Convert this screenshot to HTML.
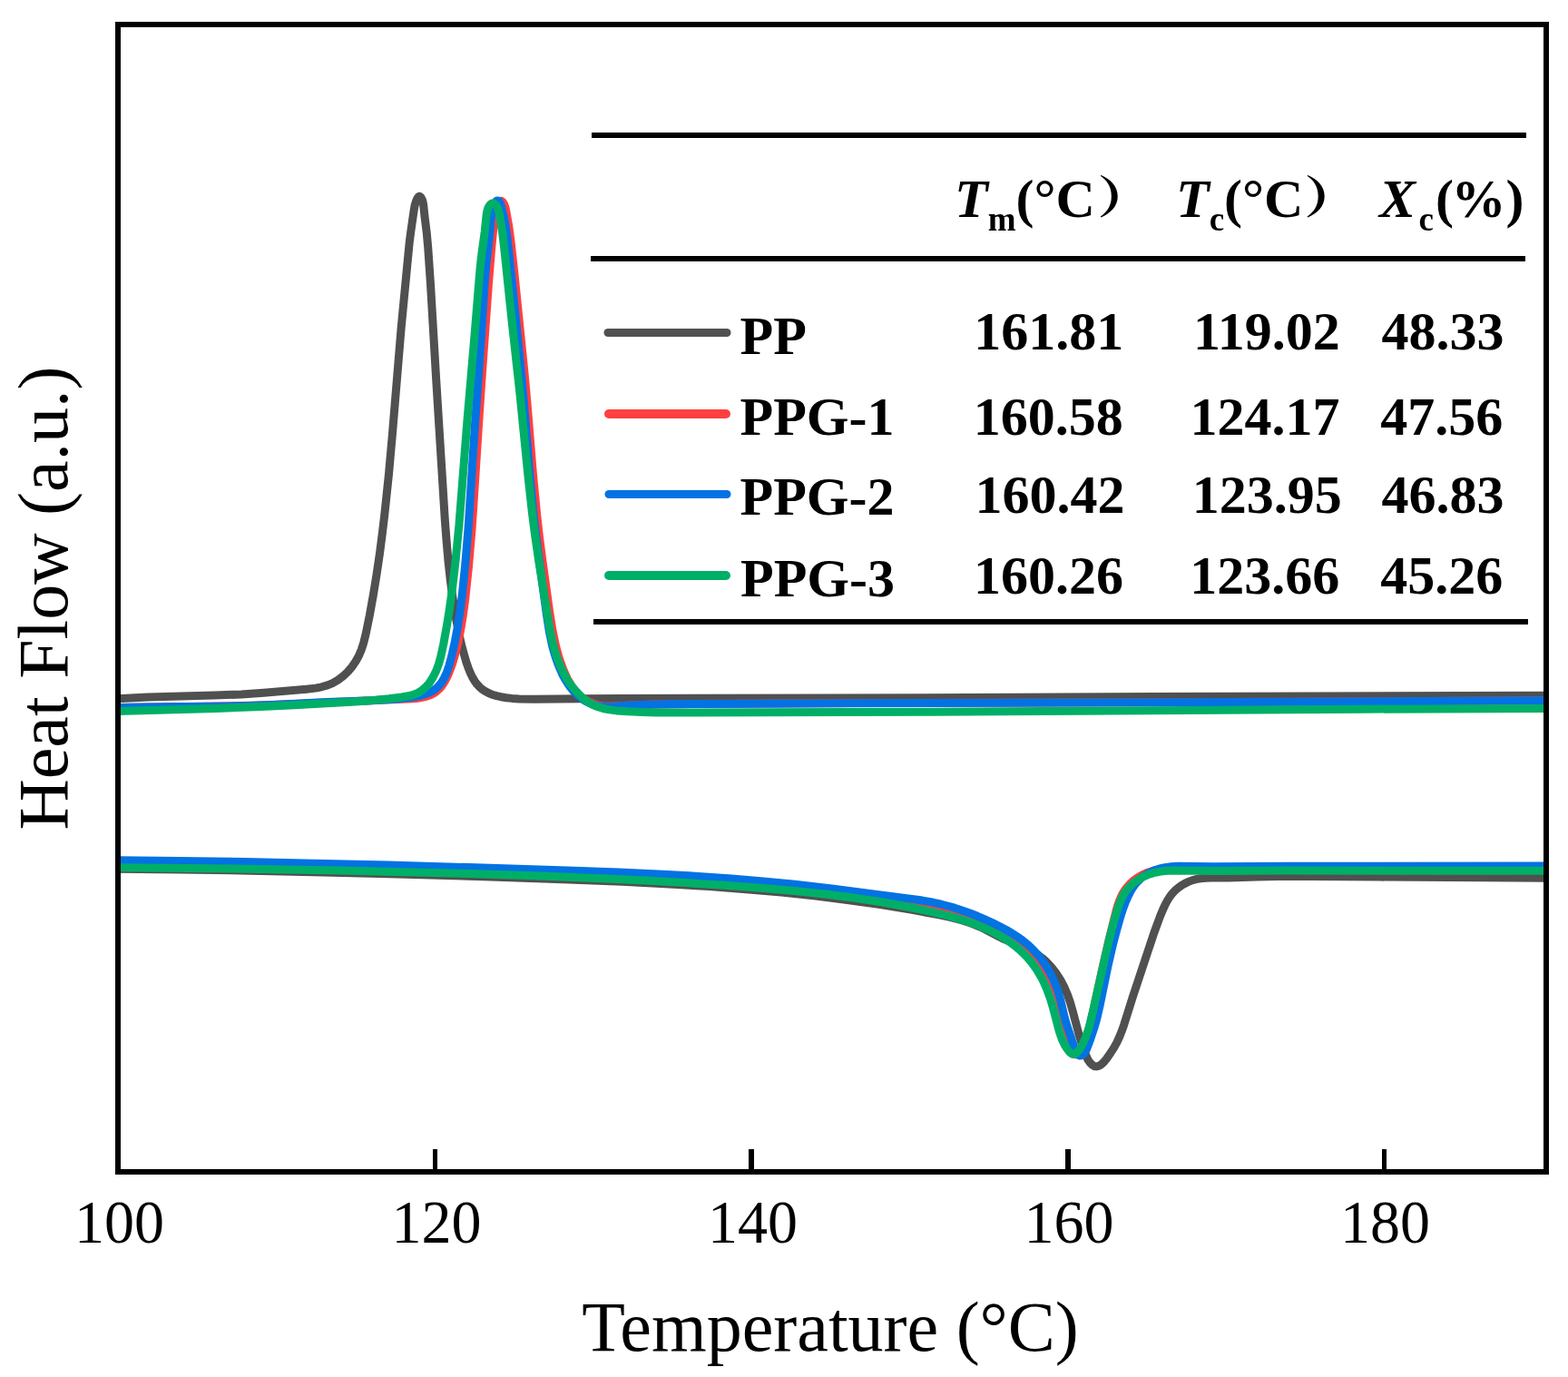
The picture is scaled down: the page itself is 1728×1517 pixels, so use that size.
<!DOCTYPE html>
<html><head><meta charset="utf-8"><title>DSC curves of PP and PPG composites</title>
<style>
html,body{margin:0;padding:0;background:#fff;}
svg{display:block;}
.t{font-family:"Liberation Serif","Times New Roman",serif;}
.b{font-family:"Liberation Serif","Times New Roman",serif;font-weight:bold;}
.cj{font-family:"Liberation Serif","Noto Serif CJK SC",serif;font-weight:normal;}
</style></head>
<body>
<svg width="1728" height="1517" viewBox="0 0 1728 1517">
<defs><clipPath id="pa"><rect x="130" y="27" width="1574" height="1264"/></clipPath></defs>
<rect x="0" y="0" width="1728" height="1517" fill="#fff"/>
<g clip-path="url(#pa)">
<path d="M126.0,770.0L143.9,768.9 162.9,768.1 235.9,766.1 265.8,764.9 290.7,763.2 337.7,759.3 347.7,758.1 354.4,756.8 361.0,754.9 366.5,752.6 372.5,749.1 378.1,744.9 383.3,740.0 387.9,734.6 391.9,728.8 395.3,722.7 398.4,715.4 400.8,707.9 403.2,698.2 407.2,678.6 411.3,655.9 415.0,633.2 418.5,609.5 421.2,588.7 423.7,567.9 428.5,522.2 432.5,477.3 442.1,361.7 451.2,267.1 453.0,253.5 456.2,231.3 457.2,225.9 458.4,222.0 459.9,218.5 461.4,216.6 461.9,216.3 462.5,216.3 463.6,217.0 465.1,219.7 465.9,221.9 466.6,225.3 468.0,238.4 470.3,257.0 471.7,272.7 474.4,311.7 480.7,418.6 490.4,574.3 492.2,597.3 494.0,618.2 496.2,638.0 498.5,655.8 502.3,680.2 506.5,701.6 508.8,711.3 511.2,720.2 513.8,729.2 516.2,736.1 518.5,741.8 520.8,746.4 523.3,750.6 525.6,753.7 528.8,757.1 531.6,759.5 534.7,761.6 538.9,763.8 542.5,765.2 547.2,766.6 552.0,767.7 558.1,768.7 564.2,769.4 572.3,769.9 588.4,770.3 641.3,769.7 685.2,769.5 909.2,769.1 1446.1,766.9 1710.0,766.3" fill="none" stroke="#505050" stroke-width="9" stroke-linejoin="round"/>
<path d="M126.0,779.6L239.0,778.1 285.0,777.0 325.8,775.5 407.7,771.7 454.3,769.7 460.3,769.2 465.1,768.4 469.8,767.3 474.2,765.8 478.3,763.7 481.3,761.5 484.1,759.0 486.7,756.0 488.4,753.5 490.6,749.9 492.6,746.2 494.7,741.4 498.3,732.0 501.7,720.5 505.0,707.1 507.7,693.4 510.3,677.7 512.6,660.8 516.4,625.0 520.0,583.2 522.1,552.3 527.0,475.5 530.6,421.6 538.4,313.0 541.5,275.1 544.2,247.1 545.2,240.0 546.1,234.9 547.5,228.6 548.9,224.6 549.6,223.0 550.5,221.8 551.0,221.5 552.0,221.3 552.6,221.4 553.6,222.1 555.2,224.2 556.4,227.1 557.4,230.6 560.8,249.5 563.1,266.8 566.5,297.6 577.7,408.0 580.8,441.9 587.5,523.6 591.6,566.4 594.4,591.2 598.0,618.9 605.4,672.4 608.5,692.2 611.9,708.8 613.8,716.5 615.7,723.3 617.9,729.9 620.3,736.5 622.7,742.1 625.2,747.6 627.7,752.0 630.3,756.1 633.2,760.1 636.5,763.8 640.0,767.2 643.2,769.6 646.5,771.8 650.1,773.7 654.7,775.7 659.6,777.1 664.5,777.9 670.4,778.2 699.4,776.8 722.3,776.1 749.3,775.7 816.3,775.3 950.3,774.6 1424.1,773.2 1710.0,771.8" fill="none" stroke="#FF4040" stroke-width="9" stroke-linejoin="round"/>
<path d="M126.0,779.7L160.0,778.9 239.9,778.2 274.9,777.6 301.0,776.5 359.9,773.6 409.7,771.8 430.7,770.5 443.9,769.4 454.1,768.1 461.0,766.9 467.6,765.1 473.8,762.7 478.5,760.0 482.0,757.2 485.7,753.1 487.3,750.8 489.2,747.5 492.2,741.2 494.9,733.4 497.9,722.2 501.3,706.9 504.3,690.9 506.9,674.2 509.2,656.6 512.7,622.1 516.1,581.4 523.3,470.3 530.7,365.8 534.4,307.8 535.5,293.8 536.7,282.9 539.8,257.2 541.3,239.1 541.9,234.0 543.2,229.0 545.2,224.1 546.8,221.7 548.0,221.0 548.6,221.0 549.8,221.6 550.7,223.1 552.0,226.2 553.3,231.1 555.2,238.6 556.6,245.2 558.7,259.5 564.7,314.3 574.4,410.8 577.5,445.7 584.1,526.5 588.0,567.3 590.5,589.1 593.7,613.8 602.6,678.3 605.4,696.1 608.5,710.8 610.3,717.5 612.3,724.1 614.6,730.7 616.9,736.3 619.3,741.8 622.1,747.1 625.2,752.3 628.0,756.4 631.1,760.3 634.5,763.9 638.1,767.3 641.2,769.7 645.4,772.4 649.0,774.3 654.6,776.6 659.4,777.9 664.3,778.6 669.3,778.8 674.2,778.6 695.2,777.1 714.1,776.3 737.1,775.8 773.1,775.5 934.1,774.7 1439.0,773.2 1710.0,771.8" fill="none" stroke="#0372E3" stroke-width="9" stroke-linejoin="round"/>
<path d="M126.0,783.7L237.9,780.4 287.9,778.5 324.9,776.8 373.8,774.1 395.6,772.7 413.6,771.3 428.6,769.8 442.7,768.0 449.7,766.8 455.5,765.3 458.3,764.3 460.9,763.1 465.0,760.5 469.4,756.7 473.3,752.2 477.1,746.3 480.6,739.3 483.4,731.8 485.8,723.2 488.8,709.4 492.2,690.6 495.1,672.8 497.9,653.0 502.0,618.3 505.9,578.6 514.9,463.9 523.5,363.3 528.3,304.5 529.6,290.5 530.9,279.5 534.2,255.3 535.9,238.6 536.5,233.9 537.7,229.6 539.1,226.9 540.2,225.4 541.4,224.4 542.6,223.9 543.3,223.9 544.5,224.2 546.3,225.7 547.9,228.0 549.0,230.9 549.9,234.2 551.2,241.0 553.7,256.8 555.6,272.5 564.1,353.8 572.9,433.2 582.1,525.8 586.5,565.6 589.7,590.4 593.6,617.0 603.8,680.3 606.8,697.2 610.1,711.8 612.0,718.5 614.1,725.1 616.2,730.6 618.5,736.0 621.0,741.3 623.9,746.5 627.0,751.5 630.5,756.3 634.4,761.0 638.0,764.9 641.8,768.5 645.8,771.8 649.2,774.1 653.6,776.6 659.0,778.8 664.6,780.5 671.4,781.9 679.2,782.9 692.2,783.8 707.1,784.5 723.1,784.9 741.1,785.1 1027.1,784.2 1503.0,781.2 1710.0,780.5" fill="none" stroke="#00AF67" stroke-width="9" stroke-linejoin="round"/>
<path d="M126.0,957.1L200.0,958.0 277.0,959.2 355.9,960.9 438.8,963.0 533.7,965.8 626.7,968.9 685.7,971.3 737.6,973.9 781.5,976.6 822.4,979.7 861.2,983.1 898.9,987.1 935.6,991.7 970.2,996.6 1003.8,1002.1 1036.2,1008.1 1048.9,1010.8 1060.5,1013.9 1070.0,1017.0 1079.2,1020.7 1085.5,1023.7 1100.7,1031.8 1107.0,1034.9 1112.6,1037.2 1127.6,1043.0 1134.8,1046.3 1139.1,1048.7 1144.0,1052.0 1148.8,1055.7 1153.2,1059.7 1158.7,1065.5 1164.2,1072.6 1168.6,1079.4 1172.8,1087.4 1176.3,1095.6 1179.3,1104.1 1182.1,1113.7 1189.0,1139.6 1194.2,1155.8 1196.4,1161.8 1197.7,1164.8 1199.1,1167.7 1200.9,1170.3 1202.2,1171.8 1203.6,1173.1 1205.1,1174.1 1206.6,1174.7 1208.3,1174.9 1210.8,1174.4 1213.3,1173.0 1216.4,1170.1 1219.3,1166.6 1223.8,1160.2 1227.7,1154.1 1231.0,1148.1 1233.8,1142.0 1236.3,1135.7 1238.6,1129.2 1248.3,1098.4 1271.9,1027.4 1278.5,1009.5 1281.6,1002.0 1284.1,996.6 1286.5,992.2 1289.1,988.0 1292.1,984.1 1294.8,981.2 1297.8,978.6 1301.8,975.6 1305.2,973.6 1309.7,971.4 1314.4,969.6 1318.2,968.6 1323.1,967.7 1329.1,967.2 1335.1,967.0 1354.2,967.0 1385.1,965.9 1408.1,965.5 1444.1,965.4 1520.1,966.1 1710.0,967.2" fill="none" stroke="#505050" stroke-width="9" stroke-linejoin="round"/>
<path d="M126.0,951.2L194.0,951.9 265.0,953.0 339.0,954.4 416.9,956.2 511.9,958.8 613.8,962.0 670.8,964.0 718.8,966.2 758.7,968.4 796.6,971.1 832.4,974.0 871.2,977.8 922.0,983.3 959.8,987.8 987.5,991.8 1012.1,996.2 1032.5,1000.7 1050.8,1005.6 1059.3,1008.2 1067.8,1011.1 1075.3,1013.9 1082.7,1016.9 1090.1,1020.1 1097.3,1023.7 1103.6,1027.0 1109.7,1030.6 1115.6,1034.4 1121.2,1038.5 1126.6,1042.9 1131.1,1046.9 1137.2,1053.4 1143.4,1061.1 1148.8,1069.4 1153.5,1078.2 1156.3,1084.6 1158.7,1091.2 1160.7,1098.0 1163.8,1111.7 1165.4,1117.5 1176.9,1150.4 1179.1,1155.6 1180.1,1157.7 1181.3,1159.6 1182.7,1160.9 1183.4,1161.4 1185.1,1161.8 1186.7,1161.5 1189.1,1160.2 1190.4,1158.9 1192.2,1156.5 1193.6,1153.7 1194.8,1150.6 1198.7,1138.3 1201.5,1127.8 1204.6,1114.5 1215.7,1063.5 1222.1,1035.4 1230.1,1003.3 1231.8,997.4 1233.8,991.7 1236.2,986.2 1238.7,981.9 1241.6,977.9 1244.9,974.1 1248.5,970.7 1253.3,967.1 1258.4,964.1 1263.7,961.6 1271.1,959.2 1279.8,957.3 1289.7,956.2 1300.8,955.8 1423.9,955.2 1710.0,955.0" fill="none" stroke="#FF4040" stroke-width="9" stroke-linejoin="round"/>
<path d="M126.0,947.6L197.0,948.4 269.9,949.6 346.9,951.2 427.8,953.1 524.7,955.8 625.7,958.9 682.6,961.0 730.5,963.2 769.4,965.4 806.3,968.0 841.2,970.9 876.0,974.2 918.7,979.1 999.1,989.6 1014.9,991.8 1028.7,994.3 1036.4,996.0 1044.1,998.0 1051.8,1000.2 1060.3,1003.0 1068.8,1006.0 1077.1,1009.3 1085.4,1012.9 1094.6,1017.1 1101.8,1020.7 1108.9,1024.5 1114.9,1028.0 1120.8,1031.8 1126.5,1035.8 1131.1,1039.5 1135.6,1043.4 1139.8,1047.6 1146.3,1055.1 1152.1,1063.2 1157.3,1071.8 1161.6,1080.9 1164.3,1087.4 1166.5,1094.1 1168.7,1101.8 1172.6,1118.3 1174.6,1125.9 1177.0,1133.4 1183.5,1152.5 1185.0,1156.5 1186.9,1160.3 1188.1,1161.9 1188.7,1162.5 1190.1,1163.0 1191.7,1162.8 1194.0,1161.2 1195.4,1159.5 1197.1,1156.7 1198.8,1152.6 1202.1,1143.7 1206.4,1130.6 1209.0,1121.2 1211.7,1109.6 1220.8,1065.1 1226.3,1041.2 1230.3,1025.9 1234.4,1011.2 1237.5,1001.3 1240.4,993.6 1243.3,987.1 1246.5,980.9 1249.7,976.0 1253.4,971.5 1257.4,967.5 1261.2,964.5 1266.2,961.5 1271.6,959.1 1277.2,957.2 1284.1,955.6 1291.0,954.7 1299.0,954.3 1336.2,954.8 1422.1,954.2 1710.0,954.0" fill="none" stroke="#0372E3" stroke-width="9" stroke-linejoin="round"/>
<path d="M126.0,955.6L208.0,956.4 286.9,957.4 362.9,958.8 435.9,960.4 509.9,962.3 581.8,964.6 644.7,967.0 701.6,969.6 751.5,972.3 798.5,975.3 841.4,978.5 878.3,981.8 911.1,985.3 941.9,989.3 971.5,993.8 998.9,998.8 1023.3,1003.8 1044.6,1008.9 1060.9,1013.5 1068.5,1016.0 1076.1,1018.7 1083.5,1021.8 1090.0,1024.7 1096.4,1027.9 1102.6,1031.3 1108.6,1035.0 1113.6,1038.4 1119.3,1042.7 1123.9,1046.5 1131.0,1053.4 1137.3,1060.9 1143.0,1068.9 1148.4,1078.3 1151.0,1083.6 1153.4,1089.1 1157.6,1100.4 1160.7,1111.0 1167.1,1135.3 1168.9,1141.0 1170.6,1145.6 1173.7,1151.9 1175.9,1155.4 1177.8,1157.9 1179.2,1159.4 1180.7,1160.6 1182.2,1161.3 1183.1,1161.3 1184.8,1160.9 1186.5,1159.7 1188.9,1157.3 1190.9,1154.5 1192.9,1150.7 1196.1,1143.5 1199.4,1134.3 1201.5,1126.6 1204.3,1114.9 1217.8,1054.4 1223.1,1032.1 1226.6,1018.5 1229.9,1006.9 1232.3,999.1 1234.4,993.4 1236.9,988.0 1239.3,983.7 1242.2,979.7 1245.6,976.0 1249.3,972.7 1254.2,969.1 1259.4,966.2 1264.7,963.8 1271.3,961.7 1278.9,960.1 1286.8,959.3 1296.8,958.9 1339.2,959.5 1416.0,959.1 1710.0,959.3" fill="none" stroke="#00AF67" stroke-width="9" stroke-linejoin="round"/>
</g>
<rect x="130" y="27" width="1574" height="1264" fill="none" stroke="#000" stroke-width="6"/>
<rect x="477" y="1266" width="5" height="23" fill="#000"/>
<rect x="825" y="1266" width="6" height="23" fill="#000"/>
<rect x="1174" y="1266" width="6" height="23" fill="#000"/>
<rect x="1523" y="1266" width="5" height="23" fill="#000"/>
<g class="t" font-size="66" text-anchor="middle" fill="#000" transform="translate(0,1369.5) scale(1,1.03) translate(0,-1369.5)">
<text x="131.5" y="1369.5">100</text>
<text x="481" y="1369.5">120</text>
<text x="829.5" y="1369.5">140</text>
<text x="1178" y="1369.5">160</text>
<text x="1526.5" y="1369.5">180</text>
</g>
<text class="t" x="915" y="1488.3" font-size="78" text-anchor="middle">Temperature (°C)</text>
<text class="t" transform="translate(73.5,659) rotate(-90)" font-size="78" text-anchor="middle">Heat Flow (a.u.)</text>
<rect x="652" y="146" width="1030" height="6" fill="#000"/>
<rect x="651" y="282" width="1030" height="6" fill="#000"/>
<rect x="654" y="682" width="1030" height="6" fill="#000"/>
<g stroke-linecap="round">
<line x1="670" y1="366.5" x2="801" y2="366.5" stroke="#505050" stroke-width="9"/>
<line x1="671" y1="456" x2="800" y2="456" stroke="#FF4040" stroke-width="10"/>
<line x1="671" y1="544.5" x2="801" y2="544.5" stroke="#0372E3" stroke-width="9"/>
<line x1="671" y1="634" x2="800" y2="634" stroke="#00AF67" stroke-width="10"/>
</g>
<g class="b" font-size="60" fill="#000">
<text x="1052" y="238.8"><tspan font-style="italic">T</tspan><tspan font-size="37" dy="15">m</tspan><tspan dy="-15">(°C</tspan></text>
<text x="1296" y="238.8"><tspan font-style="italic">T</tspan><tspan font-size="37" dy="15">c</tspan><tspan dy="-15">(°C</tspan></text>
<text x="1520" y="238.8"><tspan font-style="italic">X</tspan><tspan font-size="37" dy="15" dx="3.5">c</tspan><tspan dy="-15" dx="2">(</tspan><tspan dx="-2.5">%)</tspan></text>
</g>
<g style="font-family:'Liberation Serif','Noto Serif CJK SC',serif;font-weight:900" font-size="50" fill="#000">
<text transform="translate(1209.3,234.9) scale(1.24,0.977)">）</text>
<text transform="translate(1437,234.9) scale(1.25,0.977)">）</text>
</g>
<g class="b" font-size="60" fill="#000">
<text x="815.5" y="389.9">PP</text>
<text x="815.5" y="478.6">PPG-1</text>
<text x="815.5" y="567.3">PPG-2</text>
<text x="816" y="656.8">PPG-3</text>
</g>
<g class="b" font-size="60" fill="#000" text-anchor="end">
<text x="1238.3" y="385.2">161.81</text>
<text x="1476.7" y="385.2">119.02</text>
<text x="1657.4" y="385.2">48.33</text>
<text x="1237.7" y="479.2">160.58</text>
<text x="1476.4" y="479.2">124.17</text>
<text x="1656.2" y="479.2">47.56</text>
<text x="1239.6" y="565.3">160.42</text>
<text x="1478.8" y="565.3">123.95</text>
<text x="1657.5" y="565.3">46.83</text>
<text x="1238.1" y="654">160.26</text>
<text x="1476.2" y="654">123.66</text>
<text x="1656.2" y="654">45.26</text>
</g>
</svg>
</body></html>
